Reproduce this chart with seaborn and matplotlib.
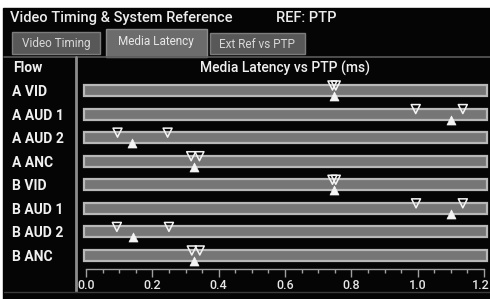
import numpy as np
import pandas as pd
import matplotlib
matplotlib.use("Agg")
import matplotlib.pyplot as plt
import matplotlib.transforms as mtransforms
from matplotlib.patches import Rectangle
import seaborn as sns

# values (ms)
flows = ["A VID", "A AUD 1", "A AUD 2", "A ANC", "B VID", "B AUD 1", "B AUD 2", "B ANC"]
lat_min = [0.743, 0.994, 0.095, 0.317, 0.743, 0.995, 0.093, 0.319]
lat_max = [0.753, 1.136, 0.246, 0.342, 0.753, 1.136, 0.250, 0.343]
lat_cur = [0.747, 1.100, 0.139, 0.327, 0.748, 1.100, 0.141, 0.327]
x_ticks = [0.0, 0.2, 0.4, 0.6, 0.8, 1.0, 1.2]
x_ticklabels = ["0.0", "0.2", "0.4", "0.6", "0.8", "1.0", "1.2"]

rows = np.arange(len(flows))
df_minmax = pd.DataFrame({"row": np.concatenate([rows, rows]),
                          "latency": lat_min + lat_max})
df_cur = pd.DataFrame({"row": rows, "latency": lat_cur})

sns.set_theme(style="dark")
plt.rcParams["font.family"] = ["Roboto", "DejaVu Sans"]

W, H = 490, 299
fig = plt.figure(figsize=(W / 100, H / 100), dpi=100, facecolor="white")

# screen chrome (pixel coordinates)
bg = fig.add_axes([0, 0, 1, 1], zorder=0)
bg.set_xlim(0, W)
bg.set_ylim(H, 0)
bg.axis("off")
bg.add_patch(Rectangle((3, 8), W - 3, H - 8, color="#050505"))
bg.add_patch(Rectangle((12, 32), 88, 22, fc="#585858", ec="#7c7c7c", lw=1))
bg.add_patch(Rectangle((210, 33), 95, 21, fc="#585858", ec="#7c7c7c", lw=1))
bg.add_patch(Rectangle((106, 29), 101, 28, fc="#6c6c6c", ec="#8a8a8a", lw=1))
bg.plot([4, W], [57, 57], color="#5a5a5a", lw=1.2)
bg.plot([76, 76], [57, 291], color="#8c8c8c", lw=2)
bg.plot([4, W], [292, 292], color="#3c3c3c", lw=1)
bg.text(10, 18, "Video Timing & System Reference", color="#ececec",
        fontsize=10.5, va="center", ha="left", fontweight="medium")
bg.text(276, 18, "REF: PTP", color="#ececec", fontsize=10.5,
        va="center", ha="left", fontweight="medium")
bg.text(56, 44, "Video Timing", color="#d8d8d8", fontsize=8.5, ha="center", va="center")
bg.text(156, 42, "Media Latency", color="#e8e8e8", fontsize=8.5, ha="center", va="center")
bg.text(257, 44, "Ext Ref vs PTP", color="#d8d8d8", fontsize=8.5, ha="center", va="center")
bg.text(13, 68, "Flow", color="#f0f0f0", fontsize=10, fontweight="bold",
        ha="left", va="center")

# chart area
ax = fig.add_axes([80 / W, 1 - 269 / H, (W - 80) / W, (269 - 60) / H], zorder=1)
ax.set_facecolor("none")

scale_max = x_ticks[-1]
ax.barh(rows, width=scale_max + 0.015, left=-0.007, height=0.47,
        color="#767676", edgecolor="#b8b8b8", linewidth=1.6, zorder=1)

sns.scatterplot(data=df_minmax, x="latency", y="row", marker="v", s=42,
                color="white", linewidth=1.1, legend=False, ax=ax, zorder=3)
down = ax.collections[-1]
down.set_facecolor("none")
down.set_edgecolor("#f4f4f4")
down.set_offset_transform(ax.transData +
                          mtransforms.ScaledTranslation(0, 0.05, fig.dpi_scale_trans))

sns.scatterplot(data=df_cur, x="latency", y="row", marker="^", s=42,
                color="#f4f4f4", edgecolor="#f4f4f4", linewidth=0.5,
                legend=False, ax=ax, zorder=3)
up = ax.collections[-1]
up.set_offset_transform(ax.transData +
                        mtransforms.ScaledTranslation(0, -0.055, fig.dpi_scale_trans))

ax.set_xlim((80 - 86) / 331.7, (W - 86) / 331.7)
ax.set_ylim((269 - 90.5) / 23.57, (60 - 90.5) / 23.57)

ax.set_xticks(x_ticks)
ax.set_xticklabels(x_ticklabels)
ax.set_xticks(np.arange(0, 1.2001, 0.05), minor=True)
ax.tick_params(axis="x", which="major", direction="out", length=6, width=1,
               color="#a0a0a0", labelcolor="#e6e6e6", labelsize=9, pad=1.5, bottom=True)
ax.tick_params(axis="x", which="minor", direction="out", length=3, width=1,
               color="#a0a0a0", bottom=True)
for lab in ax.get_xticklabels():
    lab.set_fontweight("medium")
# the last label sits at the screen edge; nudge it in a little
last = ax.get_xticklabels()[-1]
last.set_transform(last.get_transform() +
                   mtransforms.ScaledTranslation(-0.03, 0, fig.dpi_scale_trans))

ax.set_yticks(rows)
ax.set_yticklabels(flows)
ax.tick_params(axis="y", length=0, pad=48.96, labelcolor="#f0f0f0", labelsize=10)
for lab in ax.get_yticklabels():
    lab.set_ha("left")
    lab.set_fontweight("bold")

for side in ["top", "right", "left"]:
    ax.spines[side].set_visible(False)
ax.spines["bottom"].set_visible(True)
ax.spines["bottom"].set_color("#a0a0a0")
ax.spines["bottom"].set_linewidth(1)
ax.spines["bottom"].set_bounds(0, scale_max)
ax.grid(False)
ax.set_xlabel("")
ax.set_ylabel("")

ax.text(0.5, (269 - 68) / 209, "Media Latency vs PTP (ms)", transform=ax.transAxes,
        color="#f0f0f0", fontsize=10, ha="center", va="center", fontweight="medium")

fig.savefig("out.png", dpi=100, facecolor="white")
